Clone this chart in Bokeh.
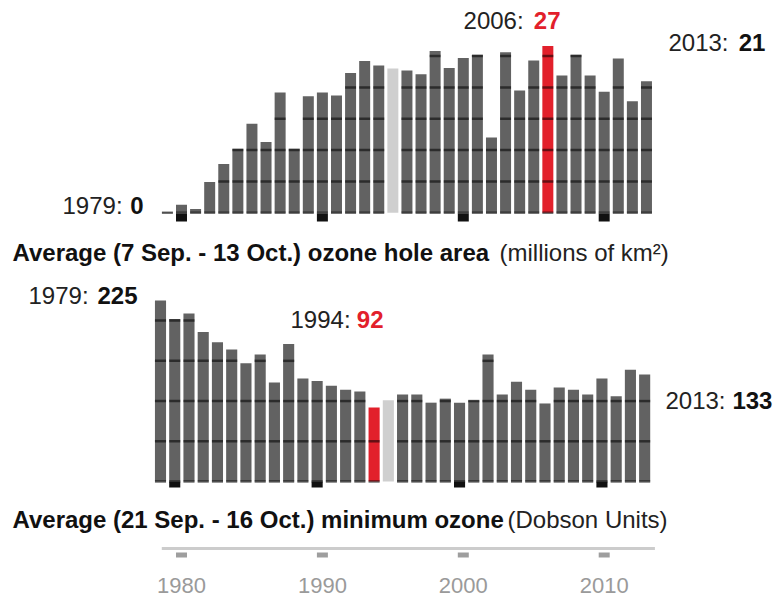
from bokeh.plotting import figure
from bokeh.models import Range1d
from bokeh.core.properties import value
from bokeh.embed import file_html
from bokeh.resources import INLINE

# ---------------- data ----------------
years = list(range(1979, 2014))
hole_area = [0.1, 1.3, 0.6, 4.9, 7.8, 10.2, 14.2, 11.3, 19.2, 10.2,
             18.6, 19.2, 18.7, 22.3, 24.2, 23.5, 23.0, 22.7, 22.1, 25.8,
             23.1, 24.7, 25.2, 12.0, 25.6, 19.5, 24.3, 26.6, 21.9, 25.2,
             21.9, 19.3, 24.6, 17.8, 21.0]
min_ozone = [225, 202, 209, 186, 173, 164, 147, 158, 123, 171,
             128, 125, 119, 114, 112, 92, 101, 108, 108, 98,
             103, 98, 101, 158, 108, 124, 114, 97, 117, 114,
             108, 128, 106, 139, 133]
missing_year = 1995
area_peak_year = 2006
ozone_low_year = 1994
area_grid = [0, 5, 10, 15, 20, 25]
ozone_grid = [0, 50, 100, 150, 200]
tick_years = [1980, 1990, 2000, 2010]
tick_labels = ["1980", "1990", "2000", "2010"]
area_title = "Average (7 Sep. - 13 Oct.) ozone hole area"
area_unit = "(millions of km²)"
ozone_title = "Average (21 Sep. - 16 Oct.) minimum ozone"
ozone_unit = "(Dobson Units)"

# ---------------- layout geometry (pixels) ----------------
W, H = 779, 601
FRAME_H = H
XS1, X1_1980 = 14.09, 181.0      # top panel: px per year, px of 1980
YS1, Y1_BASE = 6.27, 212.3       # px per million km2, baseline px
XS2, X2_1979 = 14.24, 160.0      # bottom panel
YS2, Y2_BASE = 0.8044, 481.0
TS = 8                           # text baseline correction (px, upward)

x1_start = 1980 - X1_1980 / XS1
x2_start = 1979 - X2_1979 / XS2
x1 = Range1d(x1_start, x1_start + W / XS1)
y1 = Range1d(-(FRAME_H - Y1_BASE) / YS1, Y1_BASE / YS1)
x2 = Range1d(x2_start, x2_start + W / XS2)
y2 = Range1d(-(FRAME_H - Y2_BASE) / YS2, Y2_BASE / YS2)

def px1(px):
    return x1_start + px / XS1

def py1(py):
    return (Y1_BASE - py) / YS1

FONT = value("Liberation Sans")
GRAY, RED, LIGHT = "#626262", "#e2202b", "#cfcfcf"
BW = 0.78

p = figure(width=W, height=H, x_range=x1, y_range=y1,
           output_backend="svg", toolbar_location=None,
           min_border=0, x_axis_location=None, y_axis_location=None,
           background_fill_color="white", border_fill_color="white",
           outline_line_color=None)
p.extra_x_ranges = {"x2": x2}
p.extra_y_ranges = {"y2": y2}
p.grid.visible = False

# ---------------- top panel: ozone hole area ----------------
c1 = [LIGHT if y == missing_year else RED if y == area_peak_year else GRAY for y in years]
p.vbar(x=years, top=hole_area, bottom=0, width=BW, fill_color=c1, line_color=None)
s1 = [(y, g) for y, v in zip(years, hole_area) for g in area_grid if g <= v and y != missing_year]
p.segment(x0=[y - BW / 2 for y, g in s1], x1=[y + BW / 2 for y, g in s1],
          y0=[g for y, g in s1], y1=[g for y, g in s1],
          line_color="black", line_alpha=0.55, line_width=2.5)
p.rect(x=tick_years, y=py1(217), width=BW, height=8, height_units="screen",
       fill_color="#111111", line_color=None)

# ---------------- bottom panel: minimum ozone ----------------
c2 = [LIGHT if y == missing_year else RED if y == ozone_low_year else GRAY for y in years]
p.vbar(x=years, top=min_ozone, bottom=0, width=BW, fill_color=c2, line_color=None,
       x_range_name="x2", y_range_name="y2")
s2 = [(y, g) for y, v in zip(years, min_ozone) for g in ozone_grid if g <= v and y != missing_year]
p.segment(x0=[y - BW / 2 for y, g in s2], x1=[y + BW / 2 for y, g in s2],
          y0=[g for y, g in s2], y1=[g for y, g in s2],
          line_color="black", line_alpha=0.55, line_width=2.5,
          x_range_name="x2", y_range_name="y2")
p.rect(x=tick_years, y=(Y2_BASE - 484) / YS2, width=BW, height=6, height_units="screen",
       fill_color="#111111", line_color=None, x_range_name="x2", y_range_name="y2")

# ---------------- value labels ----------------
def label(year, vals, xs, ys, dx_left, dx_right, dy, num_color, xr="default", yr="default"):
    v = vals[years.index(year)]
    kw = {}
    if xr != "default":
        kw = dict(x_range_name=xr, y_range_name=yr)
    yb = v - (dy - TS) / ys
    p.text(x=[year + dx_left / xs], y=[yb], text=[f"{year}: "],
           text_font=FONT, text_font_size="24px", text_color="#222222",
           text_align="left", text_baseline="alphabetic", **kw)
    p.text(x=[year + dx_right / xs], y=[yb], text=[f"{round(v)}"],
           text_font=FONT, text_font_size="24px", text_font_style="bold",
           text_color=num_color, text_align="right", text_baseline="alphabetic", **kw)

label(years[0], hole_area, XS1, YS1, -104.9, -23.9, 1.3, "#111111")
label(area_peak_year, hole_area, XS1, YS1, -84.3, 12.7, -17.5, RED)
label(years[-1], hole_area, XS1, YS1, 22.0, 119.0, -30.6, "#111111")
label(years[0], min_ozone, XS2, YS2, -132.0, -23.0, 3.0, "#111111", "x2", "y2")
label(ozone_low_year, min_ozone, XS2, YS2, -83.6, 9.4, -80.0, RED, "x2", "y2")
label(years[-1], min_ozone, XS2, YS2, 20.8, 127.8, 34.0, "#111111", "x2", "y2")

# ---------------- titles ----------------
for t, u, base, ux in [(area_title, area_unit, 260, 499), (ozone_title, ozone_unit, 527, 507)]:
    p.text(x=[px1(12)], y=[py1(base - TS)], text=[t], text_font=FONT, text_font_size="24px",
           text_font_style="bold", text_color="#111111", text_baseline="alphabetic")
    p.text(x=[px1(ux)], y=[py1(base - TS)], text=[u], text_font=FONT, text_font_size="24px",
           text_color="#222222", text_baseline="alphabetic")

# ---------------- bottom time axis ----------------
p.segment(x0=[years[0] - 0.4], x1=[years[-1] + 0.6], y0=[py1(548)], y1=[py1(548)],
          line_color="#cccccc", line_width=3)
p.rect(x=tick_years, y=py1(554.5), width=BW, height=5, height_units="screen",
       fill_color="#9e9e9e", line_color=None)
p.text(x=tick_years, y=[py1(593 - TS)] * len(tick_years), text=tick_labels,
       text_font=FONT, text_font_size="22px", text_color="#9a9a9a",
       text_align="center", text_baseline="alphabetic")

open("out.html", "w").write(file_html(p, INLINE))
